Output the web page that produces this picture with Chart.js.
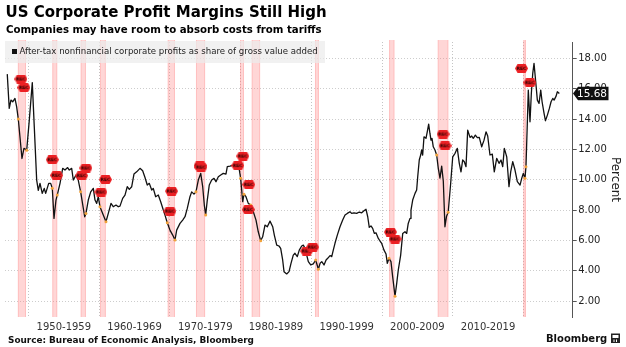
<!DOCTYPE html>
<html><head><meta charset="utf-8">
<script src="https://cdn.jsdelivr.net/npm/chart.js@4.4.1/dist/chart.umd.min.js"></script>
<style>html,body{margin:0;padding:0;background:#fff;overflow:hidden}#wrap{width:626px;height:347px;position:relative}</style>
</head><body><div id="wrap"><canvas id="c" width="626" height="347"></canvas></div>
<script>
// ---- data ----
const years = [1947.0,1947.28,1947.52,1947.77,1948.09,1948.33,1948.56,1949.08,1949.36,1949.75,1950.11,1950.54,1950.82,1951.16,1951.39,1951.63,1951.95,1952.23,1952.43,1952.86,1953.14,1953.37,1953.61,1953.89,1954.07,1954.46,1954.84,1955.16,1955.54,1955.77,1956.11,1956.34,1956.72,1957.04,1957.38,1957.95,1958.13,1958.46,1958.8,1959.17,1959.41,1959.65,1959.87,1960.11,1960.58,1960.96,1961.29,1961.67,1961.99,1962.38,1962.7,1962.94,1963.32,1963.65,1963.97,1964.26,1964.6,1964.92,1965.3,1965.77,1966.15,1966.48,1966.8,1967.09,1967.43,1967.65,1967.99,1968.36,1968.7,1969.07,1969.31,1969.63,1970.01,1970.4,1970.72,1970.96,1971.43,1971.81,1972.14,1972.46,1972.84,1973.08,1973.41,1973.69,1974.02,1974.36,1974.64,1974.87,1975.06,1975.29,1975.57,1975.91,1976.24,1976.52,1976.85,1977.19,1977.55,1977.93,1978.12,1978.5,1978.97,1979.31,1979.53,1979.82,1980.01,1980.3,1980.48,1980.76,1981.09,1981.43,1981.8,1982.18,1982.5,1982.84,1983.12,1983.45,1983.78,1984.16,1984.54,1984.77,1985.11,1985.43,1985.67,1985.95,1986.14,1986.52,1986.85,1987.13,1987.45,1987.69,1988.02,1988.3,1988.64,1988.87,1989.11,1989.35,1989.58,1989.92,1990.28,1990.62,1991.0,1991.24,1991.48,1991.8,1992.09,1992.32,1992.65,1992.89,1993.11,1993.35,1993.68,1994.06,1994.44,1994.77,1995.09,1995.47,1995.71,1996.04,1996.42,1996.79,1997.13,1997.45,1997.74,1997.98,1998.2,1998.44,1998.68,1998.91,1999.15,1999.48,1999.72,1999.96,2000.28,2000.57,2000.75,2000.99,2001.27,2001.51,2001.84,2002.08,2002.3,2002.64,2002.93,2003.25,2003.49,2003.71,2003.96,2004.1,2004.34,2004.67,2004.9,2005.05,2005.27,2005.47,2005.61,2005.75,2005.94,2006.22,2006.4,2006.6,2006.78,2006.93,2007.07,2007.25,2007.49,2007.73,2007.96,2008.2,2008.44,2008.67,2008.9,2009.13,2009.36,2009.7,2010.0,2010.33,2010.65,2010.93,2011.17,2011.41,2011.64,2011.88,2012.12,2012.45,2012.69,2012.91,2013.2,2013.48,2013.76,2014.1,2014.43,2014.71,2014.95,2015.27,2015.6,2015.88,2016.22,2016.55,2016.83,2017.07,2017.3,2017.64,2017.96,2018.2,2018.49,2018.81,2019.14,2019.52,2019.76,2019.98,2020.22,2020.36,2020.55,2020.69,2020.93,2021.12,2021.32,2021.5,2021.74,2021.97,2022.21,2022.45,2022.64,2022.92,2023.11,2023.39,2023.67,2023.91,2024.15,2024.34,2024.62,2024.8,2025.08];
const margins = [16.96,14.7,15.25,15.14,15.36,14.8,14.0,11.4,12.07,11.95,13.9,16.4,13.5,9.98,9.3,9.76,9.1,9.43,9.1,9.76,9.76,9.43,7.45,8.66,8.99,9.76,10.75,10.64,10.8,10.64,10.75,9.98,10.3,9.98,9.2,7.56,7.78,8.66,9.2,9.43,8.66,8.44,8.88,8.22,7.67,7.23,7.78,8.44,8.22,8.33,8.22,8.26,8.77,8.99,9.54,9.36,9.54,10.37,10.52,10.75,10.59,10.15,9.65,9.76,9.32,9.43,8.88,8.99,8.55,8.0,7.67,7.16,6.68,6.35,6.02,6.68,7.12,7.34,7.56,8.11,8.88,9.2,9.05,9.2,9.98,10.42,9.54,8.33,7.67,8.66,9.65,9.98,10.09,9.87,10.2,10.31,10.42,10.37,10.86,10.9,10.97,11.08,11.03,10.64,10.09,8.55,9.05,8.88,8.44,8.33,7.89,7.34,6.57,5.98,6.24,7.01,6.9,7.27,6.9,6.35,5.69,5.63,5.48,4.71,3.94,3.79,3.94,4.49,5.03,5.15,4.93,5.36,5.63,5.69,5.48,5.03,4.6,4.38,4.45,4.71,4.1,4.49,4.6,4.38,4.71,4.82,5.0,4.93,5.36,5.81,6.35,6.9,7.34,7.67,7.78,7.89,7.78,7.82,7.78,7.87,7.82,7.95,8.05,7.56,6.86,6.95,6.79,6.46,6.5,6.13,5.96,5.8,5.36,5.1,4.49,4.82,4.6,3.6,2.32,3.17,4.04,5.03,6.46,6.57,6.46,7.12,7.45,8.0,8.66,9.1,9.32,10.2,11.3,11.63,11.96,11.63,12.83,12.73,13.16,13.67,13.05,12.61,12.73,12.17,11.96,11.63,10.75,10.1,10.9,9.9,6.9,7.6,7.85,9.7,11.5,11.74,12.07,11.08,10.52,11.3,11.19,10.86,13.27,12.79,12.88,12.73,12.94,12.77,12.79,12.17,12.61,13.16,12.88,11.63,11.69,10.52,11.41,11.08,11.3,10.86,12.07,11.51,9.54,10.52,11.19,10.64,9.87,9.65,10.09,10.42,10.09,10.86,13.71,15.91,13.82,15.69,17.01,17.67,16.46,15.25,15.03,15.91,15.14,14.37,13.89,14.26,14.7,15.14,15.36,15.25,15.51,15.8,15.68];

// recession shading (start / end, decimal years)
const recStart = [1948.5,1953.37,1957.38,1960.11,1969.69,1973.69,1979.92,1981.57,1990.52,2001.0,2007.88,2019.98];
const recEnd   = [1949.65,1954.07,1958.13,1960.94,1970.72,1974.98,1980.48,1982.76,1991.08,2001.76,2009.38,2020.36];

// small orange dots on the line at recession turns
const turnYears  = [1948.56,1949.75,1953.37,1954.07,1957.38,1958.13,1960.11,1960.96,1969.63,1970.72,1973.69,1975.06,1980.01,1980.48,1981.43,1982.84,1990.62,1991.0,2000.99,2001.84,2007.73,2009.36,2020.22,2020.36];
const turnValues = [14.0,11.95,9.43,8.99,9.2,7.78,8.22,7.23,7.16,6.02,9.2,7.67,10.09,9.05,8.33,5.98,4.71,4.1,4.82,2.32,11.63,7.85,10.09,10.86];

// "REC" event flags
const flagYears  = [1948.94,1949.36,1953.37,1953.99,1958.13,1957.52,1960.89,1960.25,1970.23,1970.01,1974.26,1974.4,1980.32,1979.61,1981.17,1981.1,1989.34,1990.19,2001.2,2001.84,2008.63,2008.91,2019.73,2020.93];
const flagValues = [16.64,16.08,11.32,10.29,10.77,10.27,10.01,9.19,9.25,7.93,10.93,10.83,11.56,10.93,9.68,8.03,5.30,5.56,6.55,6.09,13.01,12.24,17.34,16.4];

const decadeLabels = ['1950-1959','1960-1969','1970-1979','1980-1989','1990-1999','2000-2009','2010-2019'];
const decadeLines = [1950,1960,1970,1980,1990,2000,2010,2020];
const yTickValues = [2,4,6,8,10,12,14,16,18];

const titleText = 'US Corporate Profit Margins Still High';
const subtitleText = 'Companies may have room to absorb costs from tariffs';
const legendText = 'After-tax nonfinancial corporate profits as share of gross value added';
const sourceText = 'Source: Bureau of Economic Analysis, Bloomberg';

// ---- flag image ----
function makeFlag(){
  const c = document.createElement('canvas'); c.width = 13; c.height = 9;
  const g = c.getContext('2d');
  g.beginPath(); g.moveTo(0,4.5); g.lineTo(2.5,0); g.lineTo(10.5,0); g.lineTo(13,4.5); g.lineTo(10.5,9); g.lineTo(2.5,9); g.closePath();
  g.fillStyle = 'rgb(236,32,36)'; g.fill();
  g.fillStyle = '#2a0303'; g.font = 'bold 4.5px "DejaVu Sans"'; g.textAlign = 'center'; g.textBaseline = 'middle';
  g.fillText('REC', 6.5, 4.8);
  return c;
}
const flagImg = makeFlag();

const FONT = '"DejaVu Sans", Verdana, sans-serif';

// x ticks: decade boundaries (grid lines) and decade centres (labels)
const xTickList = [];
decadeLines.forEach(d => { xTickList.push(d); if (d < 2020) xTickList.push(d + 5); });
const xGridColors = xTickList.map(v => v % 10 === 0 ? '#c4c4c4' : 'rgba(0,0,0,0)');

const decor = {
  id: 'decor',
  beforeDatasetsDraw(chart){
    const {ctx, chartArea: a, scales: {x}} = chart;
    ctx.save();
    for (let i = 0; i < recStart.length; i++){
      let x1 = x.getPixelForValue(recStart[i]);
      let x2 = x.getPixelForValue(recEnd[i]);
      const w = Math.max(x2 - x1, 2.5);
      ctx.fillStyle = 'rgba(255,120,120,0.30)';
      ctx.fillRect(x1, 40, w, a.bottom - 40);
      ctx.fillStyle = 'rgba(255,110,110,0.22)';
      ctx.fillRect(x1, 40, 1, a.bottom - 40);
      ctx.fillRect(x1 + w - 1, 40, 1, a.bottom - 40);
    }
    // legend box
    ctx.fillStyle = 'rgba(236,236,236,0.72)';
    ctx.fillRect(5, 41, 320, 22);
    ctx.fillStyle = '#111';
    ctx.fillRect(12, 49, 5, 5);
    ctx.fillStyle = '#222';
    ctx.font = '8.6px ' + FONT;
    ctx.textBaseline = 'middle';
    ctx.textAlign = 'left';
    ctx.fillText(legendText, 19.5, 52);
    ctx.restore();
  },
  afterDraw(chart){
    const {ctx, scales: {y}} = chart;
    ctx.save();
    // last value tag
    const last = margins[margins.length - 1];
    const yc = y.getPixelForValue(last);
    ctx.fillStyle = '#111';
    ctx.beginPath();
    ctx.moveTo(573, yc); ctx.lineTo(578, yc - 6.8); ctx.lineTo(608.5, yc - 6.8);
    ctx.lineTo(608.5, yc + 6.8); ctx.lineTo(578, yc + 6.8); ctx.closePath(); ctx.fill();
    ctx.fillStyle = '#fff';
    ctx.font = '10.5px ' + FONT;
    ctx.textAlign = 'center'; ctx.textBaseline = 'middle';
    ctx.fillText(last.toFixed(2), 592, yc + 0.5);
    // titles
    ctx.textAlign = 'left'; ctx.textBaseline = 'alphabetic';
    ctx.fillStyle = '#000';
    ctx.font = 'bold 15px ' + FONT;
    ctx.fillText(titleText, 5.5, 16.7);
    ctx.font = 'bold 10.2px ' + FONT;
    ctx.fillText(subtitleText, 6, 32.6);
    ctx.fillStyle = '#111';
    ctx.font = 'bold 8.9px ' + FONT;
    ctx.fillText(sourceText, 8, 342.5);
    ctx.font = 'bold 10px ' + FONT;
    ctx.fillText('Bloomberg', 546, 342);
    // terminal icon
    ctx.fillStyle = '#222';
    ctx.fillRect(611, 333.5, 9, 9.5);
    ctx.fillStyle = '#fff';
    ctx.fillRect(612.5, 335, 6, 3);
    ctx.fillRect(613.5, 339.5, 1, 2.5);
    ctx.fillRect(616, 339.5, 1, 2.5);
    ctx.restore();
  }
};

new Chart(document.getElementById('c'), {
  type: 'line',
  data: {
    datasets: [
      { type: 'line', data: years.map((v, i) => ({x: v, y: margins[i]})), borderColor: '#111', borderWidth: 1.3,
        pointRadius: 0, tension: 0, borderJoinStyle: 'round', order: 3 },
      { type: 'scatter', data: turnYears.map((v, i) => ({x: v, y: turnValues[i]})), pointRadius: 1.5,
        backgroundColor: '#f2a33a', borderWidth: 0, order: 2 },
      { type: 'scatter', data: flagYears.map((v, i) => ({x: v, y: flagValues[i]})), pointStyle: flagImg,
        order: 1 }
    ]
  },
  options: {
    responsive: false, animation: false, devicePixelRatio: 1,
    layout: { padding: { top: 42, left: 5, right: 0, bottom: 0 } },
    plugins: { legend: { display: false }, tooltip: { enabled: false }, title: { display: false } },
    scales: {
      x: {
        type: 'linear', position: 'bottom', min: 1946.68, max: 2026.97,
        afterBuildTicks: s => { s.ticks = xTickList.map(v => ({value: v})); },
        afterFit: s => { s.height = 30; },
        ticks: { autoSkip: false, maxRotation: 0, padding: 4, color: '#333', font: { family: FONT, size: 10 },
          callback: v => { const l = decadeLabels.find(s => parseInt(s, 10) + 5 === v); return l || ''; } },
        grid: { display: true, drawOnChartArea: true, drawTicks: false, lineWidth: 1, color: xGridColors },
        border: { display: false, dash: [1, 2] }
      },
      y: {
        type: 'linear', position: 'right', min: 0.95, max: 19.08,
        afterBuildTicks: s => { s.ticks = yTickValues.map(v => ({value: v})); },
        afterFit: s => { s.width = 53.3; },
        ticks: { padding: 1.5, color: '#222', font: { family: FONT, size: 10 }, callback: v => Number(v).toFixed(2) },
        grid: { color: '#cdcdcd', lineWidth: 1, drawTicks: true, tickLength: 4, tickColor: '#555', tickBorderDash: [] },
        border: { display: true, color: '#555', width: 1, dash: [1, 2] },
        title: { display: true, text: 'Percent', color: '#222', font: { family: FONT, size: 12 }, padding: { top: 4, bottom: 0 } }
      }
    }
  },
  plugins: [decor]
});
</script>
</body></html>
